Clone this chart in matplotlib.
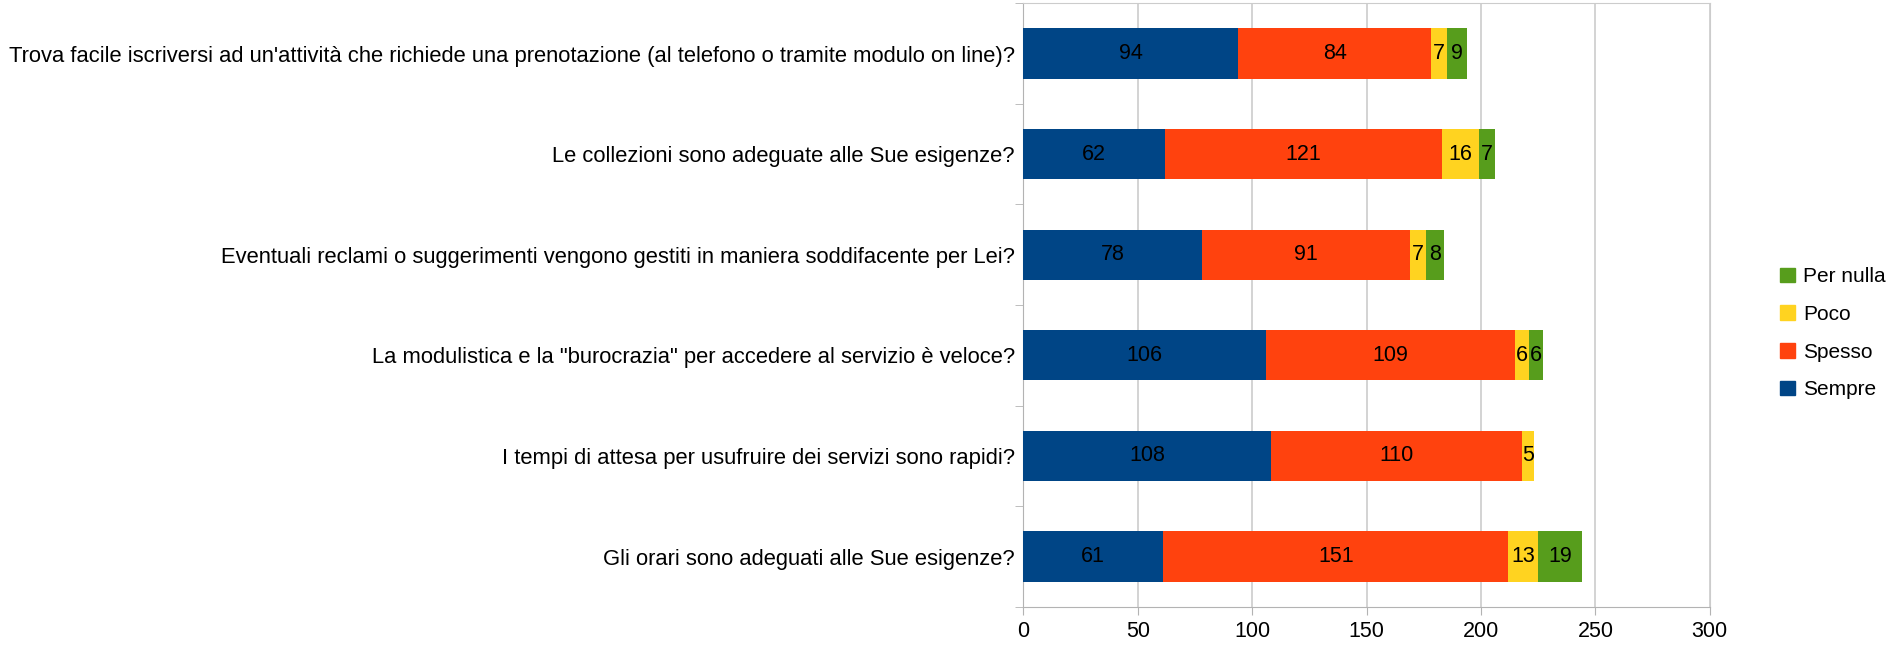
import matplotlib.pyplot as plt
from matplotlib.patches import Patch
import numpy as np

# =========================================================
# DATA
# =========================================================

categories = [
    "Trova facile iscriversi ad un'attività che richiede una prenotazione (al telefono o tramite modulo on line)?",
    "Le collezioni sono adeguate alle Sue esigenze?",
    "Eventuali reclami o suggerimenti vengono gestiti in maniera soddifacente per Lei?",
    "La modulistica e la \"burocrazia\" per accedere al servizio è veloce?",
    "I tempi di attesa per usufruire dei servizi sono rapidi?",
    "Gli orari sono adeguati alle Sue esigenze?",
]

sempre = [94, 62, 78, 106, 108, 61]
spesso = [84, 121, 91, 109, 110, 151]
poco = [7, 16, 7, 6, 5, 13]
per_nulla = [9, 7, 8, 6, 0, 19]

series_names = ["Sempre", "Spesso", "Poco", "Per nulla"]
series_values = [sempre, spesso, poco, per_nulla]
colors = ["#004586", "#ff420e", "#ffd320", "#579d1c"]

# =========================================================
# PLOT
# =========================================================

plt.rcParams['font.family'] = ['Liberation Sans', 'DejaVu Sans']

fig = plt.figure(figsize=(19.04, 6.56), dpi=100)
ax = fig.add_axes([0.5375, 0.075, 0.3605, 0.92])

y = np.arange(len(categories))
left = np.zeros(len(categories))

for name, vals, col in zip(series_names, series_values, colors):
    vals = np.array(vals, dtype=float)
    bars = ax.barh(y, vals, left=left, height=0.5, color=col, label=name, zorder=3)
    # zero values get no label
    labels = [str(int(v)) if v > 0 else "" for v in vals]
    ax.bar_label(bars, labels=labels, label_type="center", fontsize=15.5, color="black")
    left += vals

ax.set_xlim(0, 300)
ax.set_ylim(len(categories) - 0.5, -0.5)
ax.set_xticks(np.arange(0, 301, 50))
ax.set_yticks(y)
ax.set_yticklabels(categories, fontsize=15.8)
ax.set_yticks(np.arange(-0.5, len(categories), 1), minor=True)

ax.tick_params(axis="y", which="major", length=0, pad=6)
ax.tick_params(axis="y", which="minor", length=6, color="#b3b3b3")
ax.tick_params(axis="x", length=6, color="#b3b3b3", labelsize=15.5, pad=4)

ax.grid(axis="x", color="#cccccc", linewidth=1.2, zorder=0)
for side in ["top", "right"]:
    ax.spines[side].set_color("#cccccc")
for side in ["left", "bottom"]:
    ax.spines[side].set_color("#b3b3b3")

handles = [Patch(color=c, label=n) for n, c in zip(series_names, colors)][::-1]
fig.legend(handles=handles, loc="center left", bbox_to_anchor=(0.925, 0.492),
           frameon=False, fontsize=15, handlelength=0.7, handleheight=0.7,
           handletextpad=0.4, labelspacing=0.9)

plt.savefig("out.png", dpi=100)
